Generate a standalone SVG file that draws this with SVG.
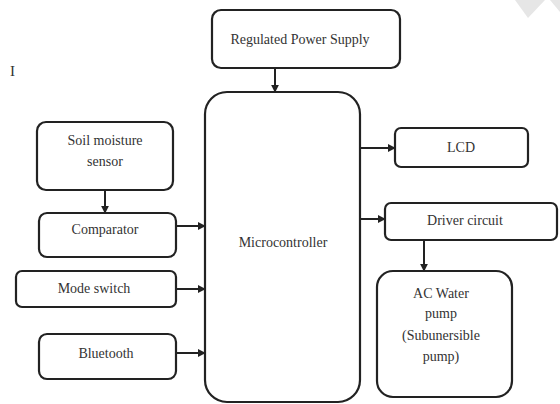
<svg xmlns="http://www.w3.org/2000/svg" width="560" height="404" viewBox="0 0 560 404">
<style>
.box{fill:#fff;stroke:#222;stroke-width:2.2}
text{font-family:'Liberation Serif','DejaVu Serif','Times New Roman',serif;font-size:14px;fill:#333;text-anchor:middle}
.c{stroke:#222;stroke-width:2;fill:none;marker-end:url(#ah)}
</style>
<defs>
<marker id="ah" viewBox="0 0 10 10" refX="9" refY="5" markerWidth="4" markerHeight="4" orient="auto" markerUnits="strokeWidth">
<path d="M0,0 L10,5 L0,10 z" fill="#222"/>
</marker>
</defs>
<rect width="560" height="404" fill="#fff"/>
<polygon points="515,0 545,0 528,18" fill="#e6e6e6"/>
<polygon points="550,0 560,0 560,12" fill="#e6e6e6"/>
<text x="10" y="76" style="text-anchor:start;font-size:15px">I</text>
<g id="power"><rect class="box" x="212" y="10" width="188" height="58" rx="9"/><text x="300" y="44">Regulated Power Supply</text></g>
<g id="mcu"><rect class="box" x="205" y="92" width="155" height="310" rx="22"/><text x="283" y="247">Microcontroller</text></g>
<g id="lcd"><rect class="box" x="395" y="128" width="133" height="39" rx="6"/><text x="461" y="152">LCD</text></g>
<g id="driver"><rect class="box" x="385" y="203" width="172" height="37" rx="6"/><text x="465" y="225">Driver circuit</text></g>
<g id="pump"><rect class="box" x="377" y="271" width="135" height="126" rx="16"/><text x="441" y="298">AC Water</text><text x="441" y="318">pump</text><text x="441" y="340">(Subunersible</text><text x="441" y="361">pump)</text></g>
<g id="soil"><rect class="box" x="37" y="122" width="136" height="68" rx="9"/><text x="105" y="145">Soil moisture</text><text x="105" y="166">sensor</text></g>
<g id="comparator"><rect class="box" x="39" y="213" width="137" height="44" rx="8"/><text x="105" y="234">Comparator</text></g>
<g id="mode"><rect class="box" x="16" y="271" width="160" height="36" rx="6"/><text x="94" y="293">Mode switch</text></g>
<g id="bluetooth"><rect class="box" x="39" y="334" width="137" height="45" rx="8"/><text x="106" y="358">Bluetooth</text></g>
<g id="connectors">
<line class="c" x1="275" y1="68" x2="275" y2="92"/>
<line class="c" x1="360" y1="148" x2="395" y2="148"/>
<line class="c" x1="360" y1="219" x2="385" y2="219"/>
<line class="c" x1="424" y1="240" x2="424" y2="271"/>
<line class="c" x1="105" y1="190" x2="105" y2="213"/>
<line class="c" x1="176" y1="226" x2="205" y2="226"/>
<line class="c" x1="176" y1="289" x2="205" y2="289"/>
<line class="c" x1="176" y1="353" x2="205" y2="353"/>
</g>
</svg>
